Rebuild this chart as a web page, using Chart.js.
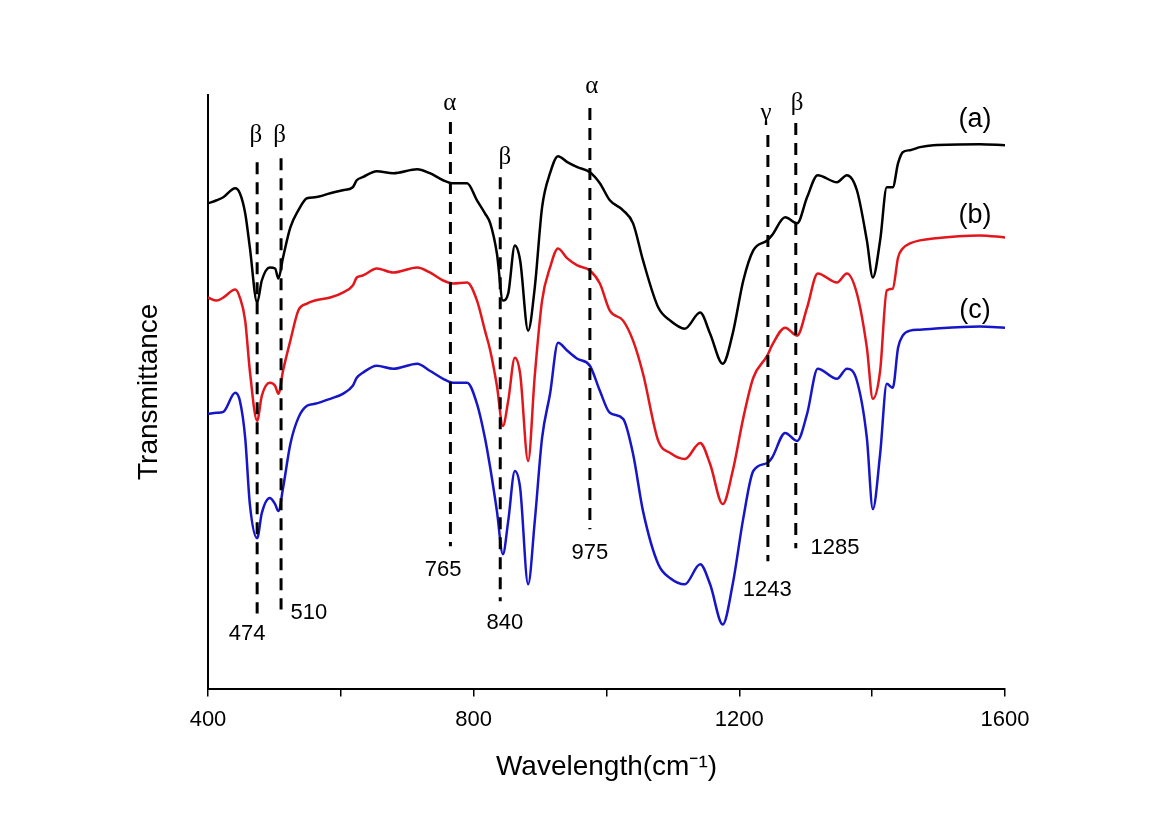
<!DOCTYPE html>
<html>
<head>
<meta charset="utf-8">
<script src="https://cdn.jsdelivr.net/npm/chart.js"></script>
<style>
  body { margin: 0; background: #fff; }
  #wrap { width: 1169px; height: 826px; }
</style>
</head>
<body>
<div id="wrap"><canvas id="ftir-chart"></canvas></div>
<script>
// wavenumber grid (cm-1), shared by the three spectra
const wavenumbers = [400, 413, 423, 441, 448, 456, 463, 474, 481, 493,
  501, 506, 513, 524, 536, 549, 561, 584, 603, 618,
  624, 633, 654, 679, 715, 734, 754, 769, 790, 805,
  817, 825, 835, 844, 852, 862, 870, 882, 892, 903,
  915, 927, 941, 956, 975, 990, 1005, 1025, 1040, 1055,
  1078, 1096, 1118, 1141, 1156, 1175, 1190, 1206, 1221, 1242,
  1249, 1269, 1287, 1302, 1318, 1347, 1362, 1377, 1392, 1401,
  1412, 1422, 1431, 1439, 1446, 1457, 1472, 1492, 1562, 1600];

// transmittance, arbitrary units (curves are offset vertically)
const spectrumA = [484, 487, 490, 499, 494, 474, 440, 385, 407, 420,
  419, 409, 430, 460, 477, 489, 490, 494, 497, 500,
  507, 510, 516, 514, 518, 514, 507, 504, 504, 487,
  474, 464, 434, 387, 394, 442, 427, 357, 400, 480,
  514, 531, 525, 520, 515, 504, 487, 477, 464, 427,
  380, 367, 359, 375, 354, 324, 354, 407, 437, 447,
  452, 470, 464, 490, 512, 505, 512, 497, 447, 410,
  447, 500, 500, 524, 535, 537, 540, 542, 543, 542];

const spectrumB = [390, 387, 390, 398, 390, 367, 317, 267, 292, 305,
  302, 294, 317, 347, 377, 384, 387, 390, 395, 402,
  410, 412, 419, 415, 420, 415, 407, 404, 405, 387,
  357, 337, 302, 262, 287, 330, 314, 227, 312, 387,
  420, 439, 429, 422, 417, 404, 377, 367, 347, 314,
  247, 235, 229, 245, 224, 184, 217, 270, 310, 332,
  342, 360, 352, 380, 414, 405, 414, 394, 340, 289,
  317, 397, 399, 430, 439, 444, 447, 449, 452, 450];

const spectrumC = [274, 275, 276, 295, 287, 250, 184, 150, 175, 190,
  184, 177, 200, 244, 270, 282, 284, 289, 294, 302,
  310, 315, 322, 319, 324, 317, 309, 305, 305, 284,
  250, 220, 177, 134, 167, 217, 200, 104, 167, 250,
  294, 345, 337, 329, 322, 297, 275, 269, 234, 177,
  124, 110, 104, 124, 104, 64, 104, 170, 217, 225,
  230, 255, 247, 274, 319, 309, 319, 307, 250, 179,
  234, 304, 300, 340, 352, 357, 358, 359, 361, 360];

// assigned bands (dashed markers)
const bandPositions = [474, 510, 765, 840, 975, 1243, 1285];
const bandPhases = ['β', 'β', 'α', 'β', 'α', 'γ', 'β'];
const bandTop = [525, 529, 565, 510, 579, 552, 564];
const bandBottom = [75, 79, 142, 87, 159, 127, 140];

const seriesNames = ['(a)', '(b)', '(c)'];
const xTicks = [400, 800, 1200, 1600];

// where the text annotations sit, in data units
const phaseLabelAt = [[472, 552], [508, 552], [764, 584], [847, 530], [978, 601], [1240, 574], [1287, 584]];
const numberLabelAt = [[459, 55], [552, 75], [754, 118], [847, 65], [975, 135], [1242, 98], [1344, 140]];
const seriesLabelAt = [[1555, 568], [1555, 472], [1555, 377]];

const toPoints = (ys) => wavenumbers.map((x, i) => ({x: x, y: ys[i]}));

const curveStyle = (color) => ({
  borderColor: color,
  borderWidth: 2.5,
  pointRadius: 0,
  fill: false,
  cubicInterpolationMode: 'monotone',
  order: 2
});

const datasets = [
  Object.assign({label: seriesNames[0], data: toPoints(spectrumA)}, curveStyle('#000000')),
  Object.assign({label: seriesNames[1], data: toPoints(spectrumB)}, curveStyle('#e3161c')),
  Object.assign({label: seriesNames[2], data: toPoints(spectrumC)}, curveStyle('#1616c8'))
];

bandPositions.forEach((b, i) => {
  datasets.push({
    label: String(b),
    data: [{x: b, y: bandTop[i]}, {x: b, y: bandBottom[i]}],
    borderColor: '#000000',
    borderWidth: 3,
    borderDash: [12, 8],
    pointRadius: 0,
    fill: false,
    order: 1
  });
});

const annotationText = {
  id: 'annotationText',
  afterDatasetsDraw(chart) {
    const {ctx, scales: {x, y}} = chart;
    ctx.save();
    ctx.textAlign = 'center';
    ctx.textBaseline = 'middle';
    ctx.fillStyle = '#000';

    ctx.font = '25px "Liberation Serif", "DejaVu Serif", serif';
    bandPhases.forEach((p, i) => {
      ctx.fillText(p, x.getPixelForValue(phaseLabelAt[i][0]), y.getPixelForValue(phaseLabelAt[i][1]));
    });

    ctx.font = '22px "Liberation Sans", Arial, sans-serif';
    bandPositions.forEach((b, i) => {
      ctx.fillText(String(b), x.getPixelForValue(numberLabelAt[i][0]), y.getPixelForValue(numberLabelAt[i][1]));
    });

    ctx.font = '27px "Liberation Sans", Arial, sans-serif';
    seriesNames.forEach((s, i) => {
      ctx.fillText(s, x.getPixelForValue(seriesLabelAt[i][0]), y.getPixelForValue(seriesLabelAt[i][1]));
    });
    ctx.restore();
  }
};

new Chart(document.getElementById('ftir-chart'), {
  type: 'line',
  data: {datasets: datasets},
  plugins: [annotationText],
  options: {
    responsive: true,
    maintainAspectRatio: false,
    animation: false,
    layout: {padding: {left: 110, right: 164, top: 95, bottom: 30}},
    plugins: {
      legend: {display: false},
      tooltip: {enabled: false}
    },
    scales: {
      x: {
        type: 'linear',
        min: 400,
        max: 1600,
        afterFit: (s) => { s.paddingLeft = 0; s.paddingRight = 0; },
        ticks: {
          stepSize: 200,
          padding: 10.4,
          color: '#000',
          font: {family: '"Liberation Sans", Arial, sans-serif', size: 22},
          maxRotation: 0,
          autoSkip: false,
          callback: (v) => xTicks.includes(v) ? String(v) : ''
        },
        grid: {display: true, drawOnChartArea: false, drawTicks: true, tickLength: 8, color: '#000', lineWidth: 1.5},
        border: {display: true, color: '#000', width: 2},
        title: {
          display: true,
          text: 'Wavelength(cm⁻¹)',
          color: '#000',
          font: {family: '"Liberation Sans", Arial, sans-serif', size: 28},
          padding: {top: 6.4, bottom: 12.2}
        }
      },
      y: {
        type: 'linear',
        min: 0,
        max: 592,
        afterFit: (s) => { s.paddingTop = 0; s.paddingBottom = 0; },
        ticks: {display: false},
        grid: {display: false, drawTicks: false},
        border: {display: true, color: '#000', width: 2},
        title: {
          display: true,
          text: 'Transmittance',
          color: '#000',
          font: {family: '"Liberation Sans", Arial, sans-serif', size: 28},
          padding: {top: 22.2, bottom: 42.2}
        }
      }
    }
  }
});
</script>
</body>
</html>
